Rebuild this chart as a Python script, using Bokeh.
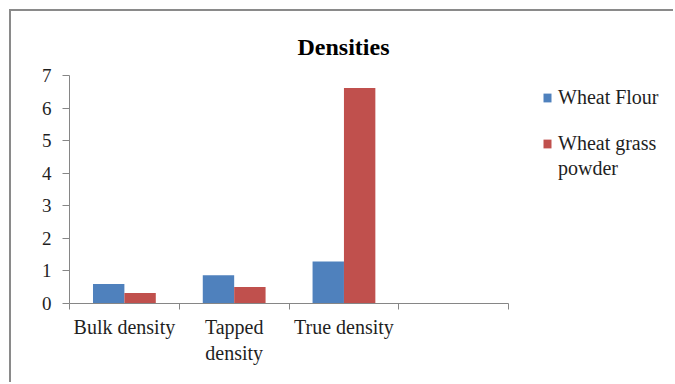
from bokeh.plotting import figure
from bokeh.models import Range1d, FixedTicker, Legend, LegendItem
from bokeh.embed import file_html
from bokeh.resources import INLINE

# Data
categories = ["Bulk density", "Tapped density", "True density"]
axis_labels = ["Bulk density", "Tapped\ndensity", "True density"]
wheat_flour = [0.60, 0.87, 1.29]
wheat_grass_powder = [0.32, 0.51, 6.62]
y_ticks = [0, 1, 2, 3, 4, 5, 6, 7]
n_slots = 4  # category slots on the axis; the last one stays empty

FONT = "Liberation Serif"
AXIS_GREY = "#868686"
TEXT = "#1f1f1f"
BLUE = "#4F81BD"
RED = "#C0504D"

centers = [i + 0.5 for i in range(len(categories))]
bar_w = 0.286
flour_x = [c - bar_w / 2 for c in centers]
grass_x = [c + bar_w / 2 for c in centers]

p = figure(width=664, height=373, output_backend="svg", toolbar_location=None,
           x_range=Range1d(0, 5.52), y_range=Range1d(0, 7),
           min_border_left=58, min_border_top=64, min_border_bottom=81,
           min_border_right=0)
p.margin = (9, 0, 0, 9)
p.styles = {"border-top": "2px solid #8a8a8a", "border-left": "2px solid #8a8a8a"}
p.outline_line_color = None
p.xgrid.visible = False
p.ygrid.visible = False

r1 = p.vbar(x=flour_x, top=wheat_flour, width=bar_w, bottom=0,
            fill_color=BLUE, line_color=None)
r2 = p.vbar(x=grass_x, top=wheat_grass_powder, width=bar_w, bottom=0,
            fill_color=RED, line_color=None)

# Title
p.title.text = "Densities"
p.title.align = "left"
p.title.offset = 228
p.title.text_font = FONT
p.title.text_font_size = "24px"
p.title.text_font_style = "bold"
p.title.text_color = "black"
p.title.standoff = 31

# Y axis
ya = p.yaxis[0]
ya.ticker = FixedTicker(ticks=y_ticks)
ya.axis_line_color = AXIS_GREY
ya.major_tick_line_color = AXIS_GREY
ya.major_tick_out = 7
ya.major_tick_in = 0
ya.minor_tick_line_color = None
ya.major_label_standoff = 11
ya.major_label_text_font = FONT
ya.major_label_text_font_size = "19px"
ya.major_label_text_color = TEXT

# X axis: labels at category centres, tick marks at category boundaries
xa = p.xaxis[0]
xa.ticker = FixedTicker(ticks=centers, minor_ticks=list(range(n_slots + 1)))
xa.bounds = (0, n_slots)
xa.axis_line_color = AXIS_GREY
xa.major_tick_line_color = None
xa.major_tick_out = 6
xa.major_tick_in = 0
xa.minor_tick_line_color = AXIS_GREY
xa.minor_tick_out = 6
xa.minor_tick_in = 0
xa.major_label_overrides = {c: lab for c, lab in zip(centers, axis_labels)}
xa.major_label_standoff = 6
xa.major_label_text_font = FONT
xa.major_label_text_font_size = "20px"
xa.major_label_text_color = TEXT

# Legend: the wrapped second label keeps its swatch on the first line
legend = Legend(items=[LegendItem(label="Wheat Flour", renderers=[r1]),
                       LegendItem(label=" ", renderers=[]),
                       LegendItem(label="Wheat grass", renderers=[r2]),
                       LegendItem(label="powder", renderers=[])],
                location="top_right", margin=11, padding=10, spacing=2,
                glyph_width=10, glyph_height=11, label_standoff=6,
                label_height=19, label_width=106, label_text_line_height=1.0,
                border_line_color=None, background_fill_alpha=0,
                label_text_font=FONT, label_text_font_size="20px",
                label_text_color=TEXT)
p.add_layout(legend)

open("out.html", "w").write(file_html(p, INLINE))
